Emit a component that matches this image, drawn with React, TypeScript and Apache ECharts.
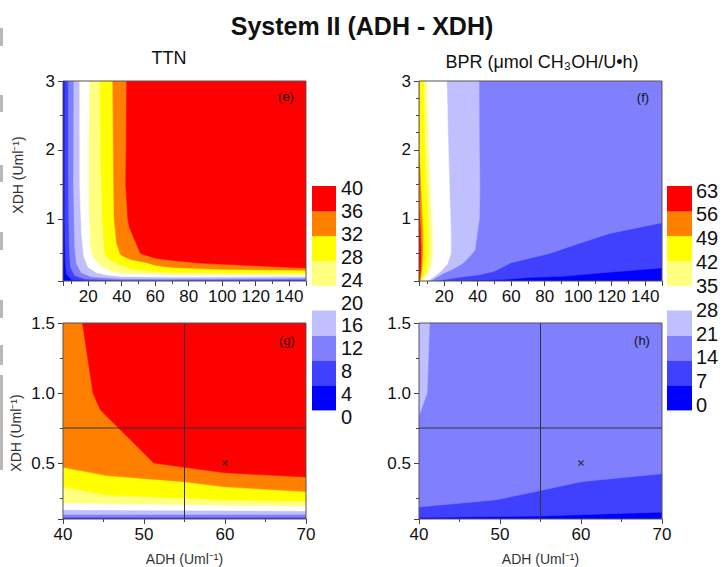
import React, { useEffect, useRef } from 'react';
import * as echarts from 'echarts';

// ---------------- Data ----------------
const ttnLevels = [0, 4, 8, 12, 16, 20, 24, 28, 32, 36, 40];
const bprLevels = [0, 7, 14, 21, 28, 35, 42, 49, 56, 63];
const bandColors = ['#0000ff', '#4040ff', '#8080ff', '#c0c0ff', '#ffffff', '#ffff80', '#ffff00', '#ff8000', '#ff0000'];

// TTN contour boundaries, points [ADH, XDH]; higher values lie to the upper right
const ttnEdge4 = [[6, 3], [6, 1], [6.3, 0.4], [7, 0.2], [10, 0.12], [20, 0.105], [70, 0.104], [150, 0.106]];
const ttnEdge8 = [[8.2, 3], [8.2, 1.5], [8.7, 0.6], [9.5, 0.3], [12, 0.18], [18, 0.13], [40, 0.112], [70, 0.112], [150, 0.12]];
const ttnEdge12 = [[11.5, 3], [11.3, 1.5], [12, 0.6], [13, 0.35], [16, 0.22], [22, 0.16], [40, 0.133], [70, 0.133], [150, 0.14]];
const ttnEdge16 = [[15, 3], [15, 1.5], [16, 0.8], [17.5, 0.45], [20, 0.3], [25, 0.22], [32, 0.185], [40, 0.166], [70, 0.158], [150, 0.165]];
const ttnEdge24 = [[21, 3], [20.5, 2], [20.5, 1.2], [21.5, 0.6], [23, 0.45], [27, 0.33], [32, 0.26], [40, 0.214], [70, 0.192], [150, 0.19]];
const ttnEdge28 = [[27.1, 3], [27.5, 2], [28.5, 1.0], [30, 0.5], [32, 0.42], [36, 0.37], [40, 0.33], [45.2, 0.273], [55, 0.249], [60, 0.238], [70, 0.226], [100, 0.215], [150, 0.21]];
const ttnEdge32 = [[34.7, 3], [35, 2], [35.5, 1.0], [37, 0.65], [39, 0.5], [40, 0.47], [45.4, 0.41], [55, 0.366], [60, 0.33], [70, 0.296], [100, 0.27], [150, 0.255]];
const ttnEdge36 = [[43, 3], [42.7, 2], [42.4, 1.5], [43.7, 1.0], [44.6, 0.88], [51.2, 0.5], [55, 0.47], [60, 0.43], [70, 0.4], [86, 0.36], [120, 0.32], [150, 0.29]];

// BPR contour boundaries, points [ADH, XDH]
// lower two: higher values lie above; the rest: higher values lie to the left
const bprEdge7 = [[0, 0.1], [40, 0.11], [55, 0.121], [70, 0.149], [91, 0.17], [120, 0.23], [150, 0.29]];
const bprEdge14 = [[0, 0.1], [15, 0.1], [28, 0.15], [40, 0.186], [49.6, 0.238], [55, 0.303], [60, 0.366], [70, 0.424], [83, 0.5], [100, 0.64], [118.8, 0.79], [150, 0.945]];
const bprEdge21 = [[40.8, 3], [41, 2], [41.3, 1.5], [41, 1.0], [40, 0.84], [38.4, 0.55], [35, 0.45], [31.4, 0.36], [25, 0.27], [19.5, 0.21], [14.5, 0.14], [12, 0.1]];
const bprEdge28 = [[21.5, 3], [22.5, 2], [23.5, 1.2], [24, 0.8], [24, 0.5], [22, 0.35], [18, 0.24], [14, 0.16], [11.5, 0.12], [9.5, 0.1]];
const bprEdge35 = [[9.6, 3], [10.5, 2], [12, 1.2], [12.8, 0.8], [13, 0.5], [12, 0.3], [10, 0.2], [8, 0.14], [6.5, 0.1]];
const bprEdge42 = [[7.5, 3], [8.5, 2], [10, 1.2], [10.5, 0.8], [10.5, 0.5], [9.5, 0.3], [8, 0.18], [6.5, 0.12], [5.5, 0.1]];
const bprEdge49 = [[4.9, 2], [5.5, 1.8], [6.5, 1.2], [7.2, 0.8], [7.3, 0.5], [6.8, 0.3], [6, 0.15], [5.5, 0.1]];
const bprEdge56 = [[4.9, 1.2], [5.5, 1.0], [6.2, 0.6], [6.2, 0.4], [5.8, 0.2], [5.3, 0.1]];

const crossADH = 55;
const crossXDH = 0.75;
const optimumPoint = [60, 0.5];

// ---------------- Region construction ----------------
const BIG = 400;
type Pt = number[];
const first = (c: Pt[]) => c[0];
const last = (c: Pt[]) => c[c.length - 1];
const closeUpperRight = (c: Pt[]) => [...c, [BIG, last(c)[1]], [BIG, BIG], [first(c)[0], BIG]];
const closeAbove = (c: Pt[]) => [...c, [BIG, last(c)[1]], [BIG, BIG], [-BIG, BIG], [-BIG, first(c)[1]]];
const closeLeft = (c: Pt[]) => [...c, [last(c)[0], -BIG], [-BIG, -BIG], [-BIG, BIG], [first(c)[0], BIG]];
const plane = [[-BIG, -BIG], [BIG, -BIG], [BIG, BIG], [-BIG, BIG]];

const ttnEdges = [ttnEdge4, ttnEdge8, ttnEdge12, ttnEdge16, ttnEdge24, ttnEdge28, ttnEdge32, ttnEdge36];
const ttnRegions = [{ pts: plane, color: bandColors[0] }].concat(
  ttnEdges.map((c, i) => ({ pts: closeUpperRight(c), color: bandColors[i + 1] }))
);
const bprEdges = [bprEdge7, bprEdge14, bprEdge21, bprEdge28, bprEdge35, bprEdge42, bprEdge49, bprEdge56];
const bprRegions = [{ pts: plane, color: bandColors[0] }].concat(
  bprEdges.map((c, i) => ({ pts: i < 2 ? closeAbove(c) : closeLeft(c), color: bandColors[i + 1] }))
);

const FONT = 'Liberation Sans, Arial, sans-serif';
const grids = [
  { left: 63, top: 81, width: 243, height: 200 },
  { left: 419, top: 81, width: 243, height: 200 },
  { left: 63, top: 323, width: 243, height: 200 },
  { left: 419, top: 323, width: 243, height: 200 },
];

function contourSeries(idx: number, regions: { pts: number[][]; color: string }[]) {
  return {
    type: 'custom',
    xAxisIndex: idx,
    yAxisIndex: idx,
    clip: true,
    silent: true,
    z: 1,
    data: regions.map((_, i) => [i, 0]),
    renderItem: (params: any, api: any) => {
      const r = regions[params.dataIndex];
      return {
        type: 'polygon',
        z2: params.dataIndex,
        shape: { points: r.pts.map((p) => api.coord(p)) },
        style: { fill: r.color, stroke: r.color, lineWidth: 0.5 },
      };
    },
  };
}

function xAxis(idx: number, min: number, max: number, split: number, bottomRow: boolean) {
  return {
    type: 'value',
    gridIndex: idx,
    min,
    max,
    splitNumber: split,
    axisLine: { show: false },
    splitLine: { show: false },
    axisTick: { show: true, length: 5, lineStyle: { color: '#444' } },
    minorTick: { show: true, splitNumber: 2, length: 3, lineStyle: { color: '#444' } },
    axisLabel: {
      fontSize: 17, color: '#111', margin: 7, fontFamily: FONT,
      showMinLabel: bottomRow, showMaxLabel: bottomRow,
    },
    name: bottomRow ? 'ADH (Uml⁻¹)' : '',
    nameLocation: 'middle',
    nameGap: 33,
    nameTextStyle: { fontSize: 14, color: '#333', fontFamily: FONT },
  };
}

function yAxis(idx: number, max: number, minorSplit: number, decimals: number) {
  return {
    type: 'value',
    gridIndex: idx,
    min: 0.1,
    max,
    splitNumber: 3,
    axisLine: { show: false },
    splitLine: { show: false },
    axisTick: { show: true, length: 5, lineStyle: { color: '#444' } },
    minorTick: { show: true, splitNumber: minorSplit, length: 3, lineStyle: { color: '#444' } },
    axisLabel: {
      fontSize: 17, color: '#111', margin: 8, fontFamily: FONT, showMinLabel: false,
      formatter: (v: number) => v.toFixed(decimals),
    },
  };
}

function crossSeries(idx: number) {
  const ls = { color: '#333', width: 1 };
  return [
    { type: 'line', xAxisIndex: idx, yAxisIndex: idx, data: [[crossADH, 0.1], [crossADH, 1.5]], symbol: 'none', lineStyle: ls, z: 5, silent: true },
    { type: 'line', xAxisIndex: idx, yAxisIndex: idx, data: [[40, crossXDH], [70, crossXDH]], symbol: 'none', lineStyle: ls, z: 5, silent: true },
    {
      type: 'scatter', xAxisIndex: idx, yAxisIndex: idx, data: [optimumPoint],
      symbol: 'path://M0 0L10 10M10 0L0 10', symbolSize: 5, z: 6, silent: true,
      itemStyle: { color: 'none', borderColor: '#222', borderWidth: 1.3 },
    },
  ];
}

function text(x: number, y: number, t: string, size: number, align = 'center', weight = 'normal', color = '#111', rotation = 0) {
  return {
    type: 'text', x, y, z: 20, silent: true, rotation,
    style: {
      text: t, fontSize: size, fontFamily: FONT, fontWeight: weight, fill: color,
      textAlign: align, textVerticalAlign: 'middle', align, verticalAlign: 'middle',
    },
  };
}

function colorBar(x: number, w: number, levels: number[], labelX: number, labelTop: number, labelStep: number) {
  const top = 186;
  const segH = 24.9;
  const els: any[] = [];
  const n = bandColors.length;
  bandColors.forEach((c, i) => {
    if (c === '#ffffff') return;
    els.push({
      type: 'rect', z: 20, silent: true,
      shape: { x, y: top + (n - 1 - i) * segH, width: w, height: segH + 0.3 },
      style: { fill: c },
    });
  });
  const m = levels.length;
  levels.forEach((v, i) => {
    els.push(text(labelX, labelTop + (m - 1 - i) * labelStep, String(v), 20, 'left'));
  });
  return els;
}

const leftMarks = [[28, 46], [95, 112], [165, 182], [232, 250], [300, 318], [345, 365], [375, 470]];

const option: any = {
  animation: false,
  backgroundColor: '#ffffff',
  textStyle: { fontFamily: FONT },
  title: {
    text: 'System II (ADH - XDH)', left: 'center', top: 8,
    textStyle: { fontSize: 25, fontWeight: 'bold', color: '#111', fontFamily: FONT },
  },
  grid: grids.map((g) => ({ ...g, show: true, z: 10, borderColor: '#555', borderWidth: 1, backgroundColor: 'transparent' })),
  xAxis: [
    xAxis(0, 5, 150, 7, false),
    xAxis(1, 5, 150, 7, false),
    xAxis(2, 40, 70, 3, true),
    xAxis(3, 40, 70, 3, true),
  ],
  yAxis: [
    yAxis(0, 3, 2, 0),
    yAxis(1, 3, 4, 0),
    yAxis(2, 1.5, 2, 1),
    yAxis(3, 1.5, 2, 1),
  ],
  series: [
    contourSeries(0, ttnRegions),
    contourSeries(1, bprRegions),
    contourSeries(2, ttnRegions),
    contourSeries(3, bprRegions),
    ...crossSeries(2),
    ...crossSeries(3),
  ],
  graphic: [
    text(169, 58, 'TTN', 18),
    text(542, 62, 'BPR (μmol CH₃OH/U•h)', 18),
    text(18, 175, 'XDH (Uml⁻¹)', 14, 'center', 'normal', '#333', Math.PI / 2),
    text(16, 433, 'XDH (Uml⁻¹)', 14, 'center', 'normal', '#333', Math.PI / 2),
    text(286, 96, '(e)', 13),
    text(643, 97, '(f)', 13),
    text(287, 340, '(g)', 13, 'center', 'normal', '#300'),
    text(642, 340, '(h)', 13),
    ...colorBar(312, 24, ttnLevels, 341, 188, 22.9),
    ...colorBar(667, 25, bprLevels, 696, 190.5, 23.85),
    ...leftMarks.map(([a, b]) => ({
      type: 'rect', silent: true, z: 20,
      shape: { x: 0, y: a, width: 3, height: b - a },
      style: { fill: '#b8b8b8' },
    })),
  ],
};

export default function App() {
  const ref = useRef<HTMLDivElement>(null);
  useEffect(() => {
    const chart = echarts.init(ref.current!, null, { renderer: 'svg' });
    chart.setOption(option);
    return () => chart.dispose();
  }, []);
  return (
    <div
      ref={ref}
      style={{ position: 'fixed', left: 0, top: 0, width: 724, height: 567, background: '#fff' }}
    />
  );
}
